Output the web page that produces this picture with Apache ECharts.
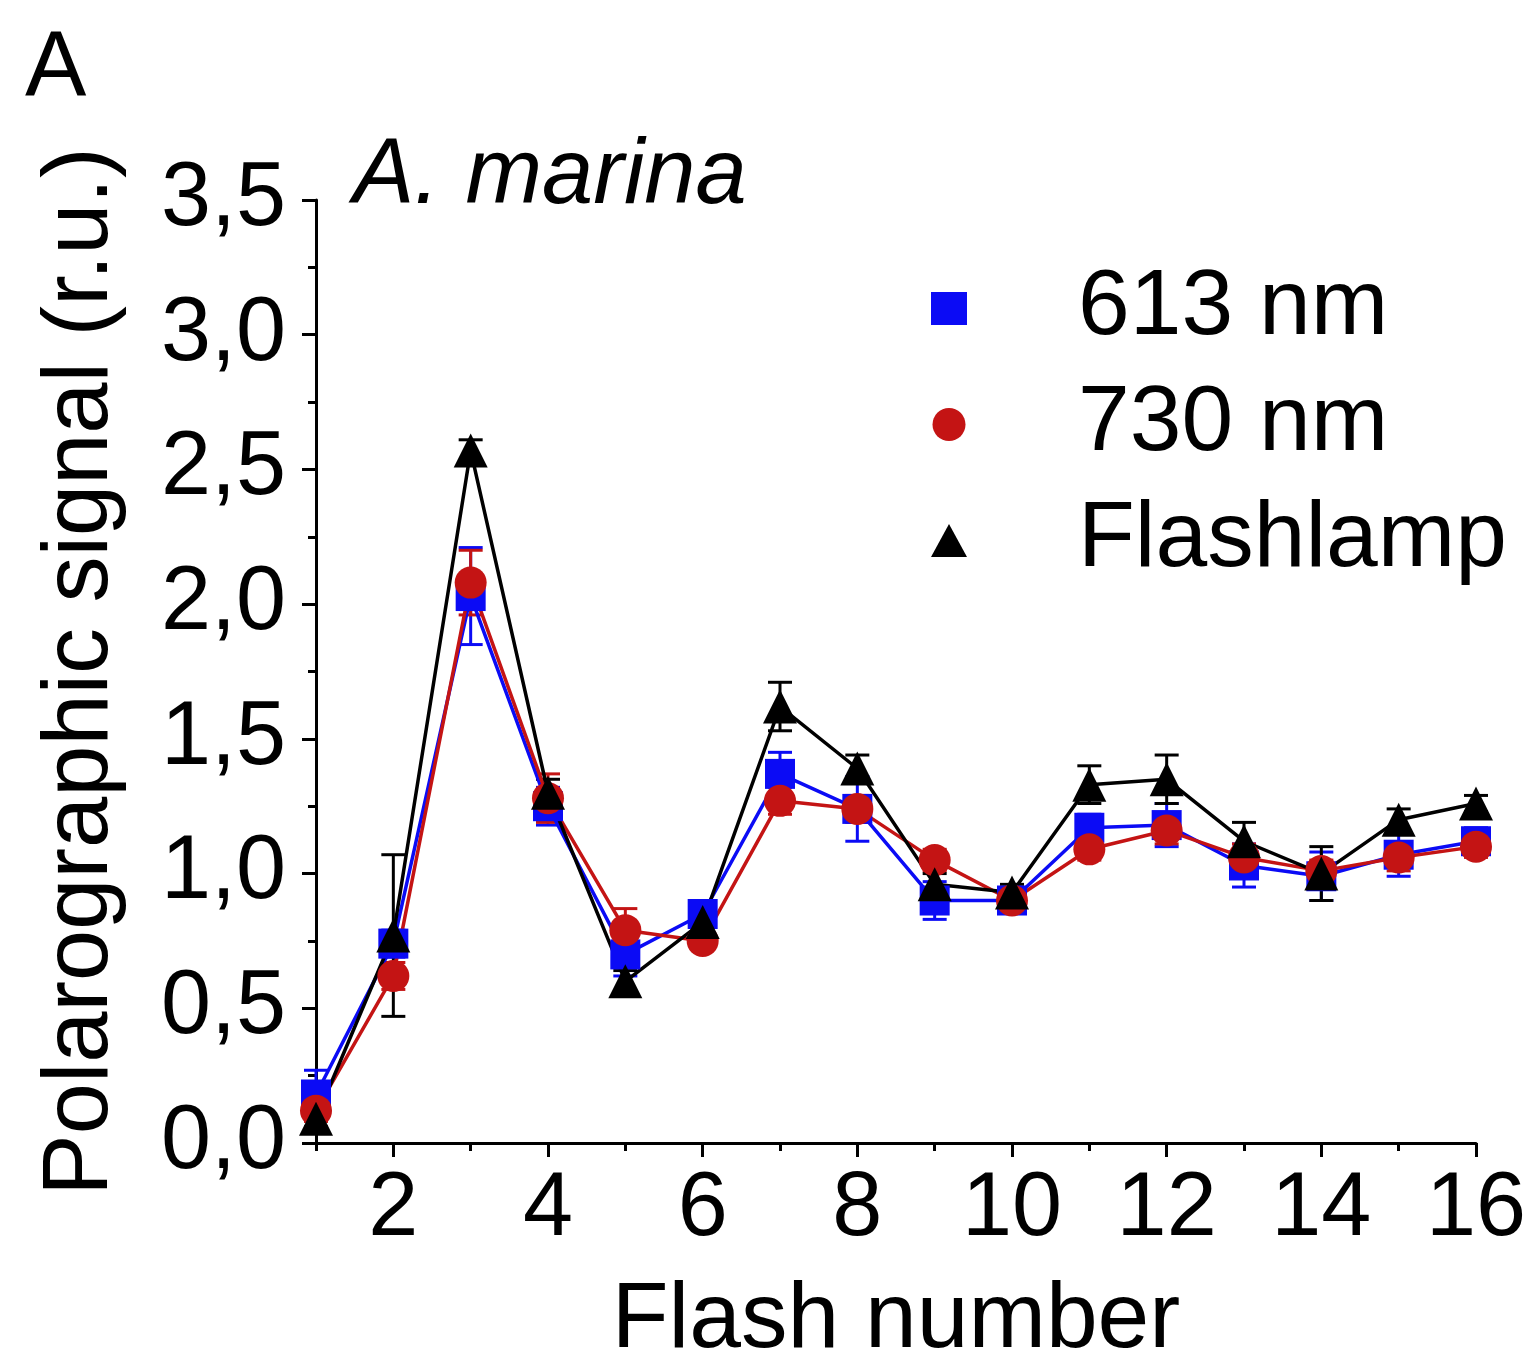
<!DOCTYPE html>
<html>
<head>
    <meta charset="utf-8">
    <title>A. marina flash yield</title>
    <script type="text/javascript" src="https://cdn.jsdelivr.net/npm/echarts@6/dist/echarts.min.js"></script>
    <style>
        html, body { margin: 0; padding: 0; background: #fff; }
        #main { width: 1532px; height: 1359px; }
    </style>
</head>
<body>
<div id="main"></div>
<script type="text/javascript">
    // flash number
    var flashes = [1, 2, 3, 4, 5, 6, 7, 8, 9, 10, 11, 12, 13, 14, 15, 16];
    // 613 nm
    var nm613 = [0.18, 0.74, 2.03, 1.25, 0.70, 0.85, 1.37, 1.24, 0.90, 0.90, 1.17, 1.18, 1.03, 0.99, 1.07, 1.12];
    var nm613Err = [0.09, 0.05, 0.18, 0.07, 0.08, 0.04, 0.08, 0.12, 0.07, 0.03, 0.05, 0.08, 0.08, 0.09, 0.08, 0.05];
    // 730 nm
    var nm730 = [0.12, 0.62, 2.08, 1.28, 0.79, 0.75, 1.27, 1.24, 1.05, 0.90, 1.09, 1.16, 1.06, 1.01, 1.06, 1.10];
    var nm730Err = [0.04, 0.05, 0.12, 0.09, 0.08, 0.03, 0.05, 0.05, 0.04, 0.03, 0.04, 0.05, 0.05, 0.04, 0.05, 0.04];
    // Flashlamp
    var lamp = [0.09, 0.77, 2.57, 1.30, 0.60, 0.82, 1.62, 1.39, 0.96, 0.93, 1.33, 1.35, 1.12, 1.00, 1.20, 1.26];
    var lampErr = [0.03, 0.30, 0.04, 0.05, 0.04, 0.04, 0.09, 0.05, 0.04, 0.03, 0.07, 0.09, 0.07, 0.10, 0.04, 0.03];
    // ticks
    var xMajorTicks = [2, 4, 6, 8, 10, 12, 14, 16];
    var xMinorTicks = [1, 3, 5, 7, 9, 11, 13, 15];

    var FONT = 'Liberation Sans';
    var BLUE = '#0b0bf5', RED = '#c41414', BLACK = '#000000';

    function pairs(ys) {
        return flashes.map(function (x, i) { return [x, ys[i]]; });
    }
    function triples(ys, es) {
        return flashes.map(function (x, i) { return [x, ys[i], es[i]]; });
    }

    // error bars with caps
    function renderErr(params, api) {
        var x = api.value(0), y = api.value(1), e = api.value(2);
        var hi = api.coord([x, y + e]);
        var lo = api.coord([x, y - e]);
        var w = 12;
        var st = { stroke: api.visual('color'), lineWidth: 3 };
        return {
            type: 'group',
            children: [
                { type: 'line', shape: { x1: hi[0], y1: hi[1], x2: lo[0], y2: lo[1] }, style: st },
                { type: 'line', shape: { x1: hi[0] - w, y1: hi[1], x2: hi[0] + w, y2: hi[1] }, style: st },
                { type: 'line', shape: { x1: lo[0] - w, y1: lo[1], x2: lo[0] + w, y2: lo[1] }, style: st }
            ]
        };
    }

    function errSeries(name, ys, es, color) {
        return {
            name: name + ' err',
            type: 'custom',
            renderItem: renderErr,
            itemStyle: { color: color },
            encode: { x: 0, y: 1 },
            data: triples(ys, es),
            clip: false,
            silent: true
        };
    }

    function lineSeries(name, ys, color, symbol, size) {
        return {
            name: name,
            type: 'line',
            data: pairs(ys),
            symbol: symbol,
            symbolSize: size,
            showAllSymbol: true,
            color: color,
            itemStyle: { color: color, opacity: 1 },
            lineStyle: { color: color, width: 3.5 },
            clip: false
        };
    }

    var myChart = echarts.init(document.getElementById('main'));

    var option = {
        animation: false,
        backgroundColor: '#fff',
        textStyle: { fontFamily: FONT, color: '#000' },
        title: [
            {
                text: 'A', left: 20, top: 20,
                textStyle: { fontFamily: FONT, fontSize: 92, fontWeight: 'normal', color: '#000' }
            },
            {
                text: 'A. marina', left: 348, top: 126,
                textStyle: { fontFamily: FONT, fontSize: 92, fontWeight: 'normal', fontStyle: 'italic', color: '#000' }
            }
        ],
        legend: {
            orient: 'vertical',
            left: 926,
            top: 257,
            itemWidth: 36,
            itemHeight: 33,
            itemGap: 23,
            selectedMode: false,
            textStyle: { fontFamily: FONT, fontSize: 93, color: '#000', padding: [0, 0, 0, 106] },
            data: [
                { name: '613 nm', icon: 'rect' },
                { name: '730 nm', icon: 'circle' },
                { name: 'Flashlamp', icon: 'triangle' }
            ]
        },
        grid: {
            left: 316, right: 56, top: 200, bottom: 216,
            outerBoundsMode: 'none'
        },
        xAxis: [
            {
                type: 'value',
                min: 1, max: 16,
                name: 'Flash number',
                nameLocation: 'middle',
                nameGap: 132,
                nameTextStyle: { fontFamily: FONT, fontSize: 93, color: '#000' },
                axisLine: { lineStyle: { color: '#000', width: 3 } },
                axisTick: { customValues: xMajorTicks, length: 14, lineStyle: { color: '#000', width: 3 } },
                axisLabel: { customValues: xMajorTicks, fontFamily: FONT, fontSize: 90, color: '#000', margin: 22 },
                splitLine: { show: false }
            },
            {
                type: 'value',
                min: 1, max: 16,
                position: 'bottom',
                axisLine: { show: false },
                axisTick: { customValues: xMinorTicks, length: 8, lineStyle: { color: '#000', width: 3 } },
                axisLabel: { show: false },
                splitLine: { show: false }
            }
        ],
        yAxis: {
            type: 'value',
            min: 0, max: 3.5, interval: 0.5,
            name: 'Polarographic signal (r.u.)',
            nameLocation: 'middle',
            nameGap: 188,
            nameTextStyle: { fontFamily: FONT, fontSize: 92, color: '#000' },
            axisLine: { show: true, lineStyle: { color: '#000', width: 3 } },
            axisTick: { show: true, length: 14, lineStyle: { color: '#000', width: 3 } },
            minorTick: { show: true, splitNumber: 2, length: 8, lineStyle: { color: '#000', width: 3 } },
            axisLabel: {
                fontFamily: FONT, fontSize: 90, color: '#000', margin: 30,
                padding: [0, 0, 14, 0],
                formatter: function (v) { return v.toFixed(1).replace('.', ','); }
            },
            splitLine: { show: false },
            minorSplitLine: { show: false }
        },
        series: [
            errSeries('613 nm', nm613, nm613Err, BLUE),
            lineSeries('613 nm', nm613, BLUE, 'rect', 30),
            errSeries('730 nm', nm730, nm730Err, RED),
            lineSeries('730 nm', nm730, RED, 'circle', 32),
            errSeries('Flashlamp', lamp, lampErr, BLACK),
            lineSeries('Flashlamp', lamp, BLACK, 'triangle', 34)
        ]
    };
    myChart.setOption(option);
</script>
</body>
</html>
